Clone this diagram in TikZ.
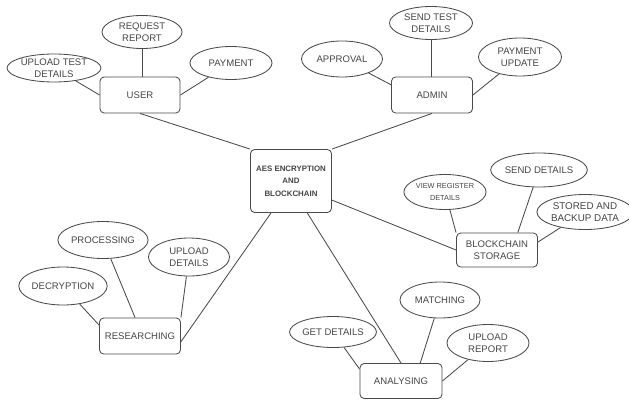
\documentclass[tikz,border=0pt]{standalone}
\usepackage{fontspec}
\setmainfont{Liberation Sans}
\usetikzlibrary{shapes.geometric}
\definecolor{linegray}{HTML}{4A4A4A}
\definecolor{textgray}{HTML}{454545}
\begin{document}
\begin{tikzpicture}[x=0.025cm,y=-0.025cm,
  base/.style={draw=linegray,line width=0.6pt,text=textgray,align=center,inner sep=0pt,
    font=\fontsize{6.8}{8.5}\selectfont},
  boxn/.style={base,rectangle,rounded corners=3pt},
  elln/.style={base,ellipse},
  conn/.style={draw=linegray,line width=0.6pt}]
\useasboundingbox[fill=white] (0,0) rectangle (629,400);
% main boxes
\node[boxn,minimum width=2.0cm,minimum height=0.9cm] (user) at (140,95) {USER};
\node[boxn,minimum width=2.025cm,minimum height=0.9cm] (admin) at (432,95) {ADMIN};
\node[boxn,minimum width=2.025cm,minimum height=1.575cm,
  font=\fontsize{5.6}{9}\selectfont\bfseries] (c) at (291,181) {AES ENCRYPTION\\AND\\BLOCKCHAIN};
\node[boxn,minimum width=2.025cm,minimum height=0.85cm] (bs) at (497,250) {BLOCKCHAIN\\STORAGE};
\node[boxn,minimum width=2.05cm,minimum height=0.875cm] (an) at (401,381) {ANALYSING};
\node[boxn,minimum width=2.025cm,minimum height=0.9cm] (res) at (140,336) {RESEARCHING};
% ellipses
\node[elln,minimum width=2.0cm,minimum height=0.825cm] (rr) at (142,32) {REQUEST\\REPORT};
\node[elln,minimum width=2.05cm,minimum height=0.7cm] (ut) at (54,68) {UPLOAD TEST\\DETAILS};
\node[elln,minimum width=2.05cm,minimum height=0.825cm] (pay) at (231,63) {PAYMENT};
\node[elln,minimum width=2.075cm,minimum height=0.825cm] (st) at (431,23) {SEND TEST\\DETAILS};
\node[elln,minimum width=2.025cm,minimum height=0.9cm] (appr) at (342,59) {APPROVAL};
\node[elln,minimum width=2.075cm,minimum height=0.95cm] (pu) at (520,57) {PAYMENT\\UPDATE};
\node[elln,minimum width=1.6cm,minimum height=0.875cm,
  font=\fontsize{5.2}{9}\selectfont] (vr) at (445,192) {VIEW REGISTER\\DETAILS};
\node[elln,minimum width=2.05cm,minimum height=0.85cm] (sd) at (539,170) {SEND DETAILS};
\node[elln,minimum width=2.1cm,minimum height=0.875cm,
  font=\fontsize{7}{8.5}\selectfont] (sb) at (585,212) {STORED AND\\BACKUP DATA};
\node[elln,minimum width=2.075cm,minimum height=0.775cm] (gd) at (333,332) {GET DETAILS};
\node[elln,minimum width=2.0cm,minimum height=0.9cm] (mt) at (440,300) {MATCHING};
\node[elln,minimum width=2.05cm,minimum height=0.925cm] (ur) at (488,343) {UPLOAD\\REPORT};
\node[elln,minimum width=2.025cm,minimum height=0.925cm] (pr) at (103,240) {PROCESSING};
\node[elln,minimum width=2.025cm,minimum height=0.95cm] (ud) at (189,257) {UPLOAD\\DETAILS};
\node[elln,minimum width=2.05cm,minimum height=0.95cm] (dec) at (63,286) {DECRYPTION};
% connectors
\draw[conn] (ut) -- (user.west);
\draw[conn] (rr.south) -- (rr.south |- user.north);
\draw[conn] (pay) -- (user.east);
\draw[conn] (user.south) -- (c.north west);
\draw[conn] (appr) -- (admin.166);
\draw[conn] (st.south) -- (st.south |- admin.north);
\draw[conn] (pu) -- (admin.east);
\draw[conn] (admin.south) -- (c.north east);
\draw[conn] (vr) -- (bs.north west);
\draw[conn] (sd) -- (bs.40);
\draw[conn] (sb) -- (bs.11);
\draw[conn] (c.-25) -- (bs.west);
\draw[conn] (gd) -- (an.164);
\draw[conn] (mt) -- (an.43);
\draw[conn] (ur) -- (an.east);
\draw[conn] (c.-63) -- (an.north);
\draw[conn] (dec) -- (res.165);
\draw[conn] (pr) -- (res.105);
\draw[conn] (ud) -- (res.north east);
\draw[conn] (c.-122) -- (res.-8);
\end{tikzpicture}
\end{document}
